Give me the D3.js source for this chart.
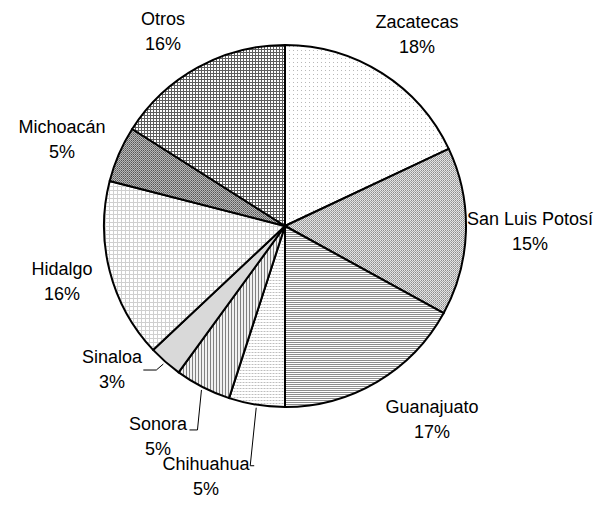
<!DOCTYPE html>
<html>
<head>
<meta charset="utf-8">
<script src="https://cdn.jsdelivr.net/npm/d3@7"></script>
<style>
  html, body { margin: 0; padding: 0; background: #fff; }
  svg { display: block; }
  text { font-family: "Liberation Sans", Arial, sans-serif; font-size: 18px; fill: #000; }
</style>
</head>
<body>
<svg id="chart" width="615" height="524"></svg>
<script>
// Share by state, clockwise from 12 o'clock
const states = ["Zacatecas", "San Luis Potosí", "Guanajuato", "Chihuahua", "Sonora", "Sinaloa", "Hidalgo", "Michoacán", "Otros"];
const shares = [18, 15, 17, 5, 5, 3, 16, 5, 16];
const fills = ["dots", "checker", "hlines", "dotgrid", "vlines", "solid", "grid", "darkcheck", "darkgrid"];

const W = 615, H = 524;
const cx = 285, cy = 226, R = 181;

const svg = d3.select("#chart");
const defs = svg.append("defs");

function pattern(id, size, draw) {
  const p = defs.append("pattern").attr("id", id)
    .attr("patternUnits", "userSpaceOnUse").attr("width", size).attr("height", size);
  p.append("rect").attr("width", size).attr("height", size).attr("fill", "#fff");
  draw(p);
}
pattern("dots", 4, p => p.append("rect").attr("width", 1).attr("height", 1).attr("fill", "#b8b8b8"));
pattern("checker", 2, p => {
  p.append("rect").attr("width", 1).attr("height", 1).attr("fill", "#8c8c8c");
  p.append("rect").attr("x", 1).attr("y", 1).attr("width", 1).attr("height", 1).attr("fill", "#a8a8a8");
  p.append("rect").attr("x", 1).attr("y", 0).attr("width", 1).attr("height", 1).attr("fill", "#e8e8e8");
  p.append("rect").attr("x", 0).attr("y", 1).attr("width", 1).attr("height", 1).attr("fill", "#e0e0e0");
});
pattern("hlines", 2, p => p.append("rect").attr("width", 2).attr("height", 1).attr("fill", "#8e8e8e"));
pattern("dotgrid", 3, p => {
  p.append("rect").attr("width", 3).attr("height", 1).attr("fill", "#e2e2e2");
  p.append("rect").attr("width", 1).attr("height", 1).attr("fill", "#bdbdbd");
});
pattern("vlines", 3, p => {
  p.append("rect").attr("width", 3).attr("height", 3).attr("fill", "#f0f0f0");
  p.append("rect").attr("width", 1).attr("height", 3).attr("fill", "#808080");
});
pattern("solid", 2, p => p.append("rect").attr("width", 2).attr("height", 2).attr("fill", "#d9d9d9"));
pattern("grid", 4, p => {
  p.append("rect").attr("width", 4).attr("height", 1).attr("fill", "#cfcfcf");
  p.append("rect").attr("width", 1).attr("height", 4).attr("fill", "#cfcfcf");
});
pattern("darkcheck", 2, p => {
  p.append("rect").attr("width", 2).attr("height", 2).attr("fill", "#b8b8b8");
  p.append("rect").attr("width", 1).attr("height", 1).attr("fill", "#555");
  p.append("rect").attr("x", 1).attr("y", 1).attr("width", 1).attr("height", 1).attr("fill", "#777");
});
pattern("darkgrid", 3, p => {
  p.append("rect").attr("width", 3).attr("height", 1).attr("fill", "#5e5e5e");
  p.append("rect").attr("width", 1).attr("height", 3).attr("fill", "#5e5e5e");
});

const data = states.map((s, i) => ({ name: s, value: shares[i], fill: fills[i] }));
const pie = d3.pie().sort(null).value(d => d.value);
const arcs = pie(data);
const arc = d3.arc().innerRadius(0).outerRadius(R);

const g = svg.append("g").attr("transform", `translate(${cx},${cy})`);
g.selectAll("path.slice").data(arcs).join("path")
  .attr("class", "slice")
  .attr("d", arc)
  .attr("fill", d => `url(#${d.data.fill})`)
  .attr("stroke", "#000")
  .attr("stroke-width", 2)
  .attr("stroke-linejoin", "round");

// Label anchors (centre of the two-line label, page coordinates)
const labelPos = {
  "Zacatecas": [417, 28],
  "San Luis Potosí": [530, 225],
  "Guanajuato": [432, 413],
  "Chihuahua": [206, 470],
  "Sonora": [158, 430],
  "Sinaloa": [112, 363],
  "Hidalgo": [62, 275],
  "Michoacán": [62, 133],
  "Otros": [163, 25]
};

// Leader lines for the narrow lower-left slices
const leaders = {
  "Chihuahua": [[0, 0], [-6, 58], [-2, 58]],
  "Sonora": [[0, 0], [-4, 40], [-12, 40]],
  "Sinaloa": [[0, 0], [-7, 6], [-20, 6]]
};
const outer = d3.arc().innerRadius(R + 3).outerRadius(R + 3);
arcs.forEach(a => {
  const off = leaders[a.data.name];
  if (!off) return;
  const [px, py] = outer.centroid(a);
  const x0 = cx + px, y0 = cy + py;
  const pts = off.map(([dx, dy]) => [x0 + dx, y0 + dy]);
  svg.append("path")
    .attr("d", d3.line()(pts))
    .attr("fill", "none").attr("stroke", "#000").attr("stroke-width", 1);
});

arcs.forEach(a => {
  const [lx, ly] = labelPos[a.data.name];
  const t = svg.append("text").attr("text-anchor", "middle");
  t.append("tspan").attr("x", lx).attr("y", ly).text(a.data.name);
  t.append("tspan").attr("x", lx).attr("y", ly + 25).text(a.data.value + "%");
});
</script>
</body>
</html>
